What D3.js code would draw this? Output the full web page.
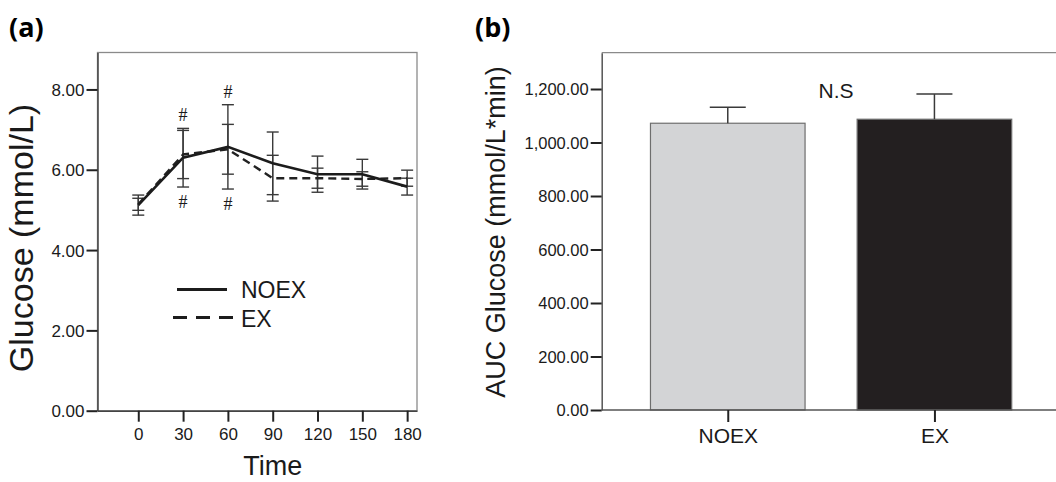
<!DOCTYPE html>
<html>
<head>
<meta charset="utf-8">
<script src="https://cdn.jsdelivr.net/npm/d3@7/dist/d3.min.js"></script>
<style>
  html, body { margin: 0; padding: 0; background: #fff; }
  svg { display: block; }
</style>
</head>
<body>
<svg id="fig" width="1056" height="482"></svg>
<script>
// ---- Panel (a): glucose over time ----
const times = [0, 30, 60, 90, 120, 150, 180];
const noexMean = [5.12, 6.30, 6.57, 6.16, 5.89, 5.89, 5.58];
const noexErr  = [0.25, 0.73, 1.05, 0.78, 0.45, 0.37, 0.21];
const exMean   = [5.14, 6.38, 6.51, 5.79, 5.79, 5.77, 5.79];
const exErr    = [0.15, 0.60, 0.62, 0.57, 0.25, 0.18, 0.20];
const glucoseTicks = [0, 2, 4, 6, 8];
// significance marks: time, and which side of the error bars
const sigMarks = [
  { t: 30, side: "up" }, { t: 30, side: "down" },
  { t: 60, side: "up" }, { t: 60, side: "down" }
];

// ---- Panel (b): area under the curve ----
const groups = ["NOEX", "EX"];
const aucMean = [1072, 1087];
const aucErr  = [60, 94];
const aucTicks = [0, 200, 400, 600, 800, 1000, 1200];
const groupFill = ["#d3d4d6", "#231f20"];

const SANS = "'Liberation Sans', Arial, Helvetica, sans-serif";
const svg = d3.select("#fig");

// panel letters
svg.append("text").attr("x", 9).attr("y", 37)
  .style("font-family", "'Open Sans', 'Noto Sans', sans-serif")
  .style("font-weight", "700").style("font-size", "27px").text("(a)");
svg.append("text").attr("x", 475).attr("y", 37)
  .style("font-family", "'Open Sans', 'Noto Sans', sans-serif")
  .style("font-weight", "700").style("font-size", "27px").text("(b)");

// ===== Panel (a) =====
const A = { left: 97.5, right: 417, top: 52.5, bottom: 410.7 };
const xA = d3.scaleLinear().domain([-27.3, 186.6]).range([A.left, A.right]);
const yA = d3.scaleLinear().domain([0, 8.92]).range([A.bottom, A.top]);

const gA = svg.append("g");
// frame
gA.append("rect").attr("x", A.left).attr("y", A.top)
  .attr("width", A.right - A.left).attr("height", A.bottom - A.top)
  .attr("fill", "none").attr("stroke", "#8a8a8a").attr("stroke-width", 1.3);

const yAxisA = gA.append("g").attr("transform", `translate(${A.left},0)`)
  .call(d3.axisLeft(yA).tickValues(glucoseTicks).tickFormat(d3.format(".2f")).tickSize(11).tickSizeOuter(0));
const xAxisA = gA.append("g").attr("transform", `translate(0,${A.bottom})`)
  .call(d3.axisBottom(xA).tickValues(times).tickFormat(d3.format("d")).tickSize(11).tickSizeOuter(0));
[yAxisA, xAxisA].forEach(ax => {
  ax.select(".domain").attr("stroke", "#444").attr("stroke-width", 1.5);
  ax.selectAll(".tick line").attr("stroke", "#222").attr("stroke-width", 2);
  ax.selectAll(".tick text").style("font-size", "17px").style("font-family", SANS).attr("fill", "#1a1a1a");
});
yAxisA.selectAll(".tick text").attr("x", -13).attr("dy", "0.36em");
xAxisA.selectAll(".tick text").attr("y", 17).attr("dy", "0.71em");

// axis titles
gA.append("text").attr("x", xA(90)).attr("y", 475).attr("text-anchor", "middle")
  .style("font-family", SANS).style("font-size", "27px").attr("fill", "#1a1a1a").text("Time");
gA.append("text").attr("transform", `translate(33,${yA(4.3)}) rotate(-90)`)
  .attr("text-anchor", "middle").style("font-family", SANS).style("font-size", "34px")
  .attr("fill", "#1a1a1a").text("Glucose (mmol/L)");

// error bars
function errorBars(mean, err, color) {
  const cap = 6;
  const g = gA.append("g").attr("stroke", color).attr("stroke-width", 1.4).attr("fill", "none");
  times.forEach((t, i) => {
    const x = xA(t), y1 = yA(mean[i] + err[i]), y2 = yA(mean[i] - err[i]);
    g.append("line").attr("x1", x).attr("x2", x).attr("y1", y1).attr("y2", y2);
    g.append("line").attr("x1", x - cap).attr("x2", x + cap).attr("y1", y1).attr("y2", y1);
    g.append("line").attr("x1", x - cap).attr("x2", x + cap).attr("y1", y2).attr("y2", y2);
  });
}
errorBars(exMean, exErr, "#3a3a3a");
errorBars(noexMean, noexErr, "#3a3a3a");

const lineA = d3.line().x(d => xA(d[0])).y(d => yA(d[1]));
gA.append("path").datum(times.map((t, i) => [t, exMean[i]]))
  .attr("d", lineA).attr("fill", "none").attr("stroke", "#222")
  .attr("stroke-width", 2.4).attr("stroke-dasharray", "8,5");
gA.append("path").datum(times.map((t, i) => [t, noexMean[i]]))
  .attr("d", lineA).attr("fill", "none").attr("stroke", "#1c1c1c")
  .attr("stroke-width", 2.6);

// significance marks placed outside the widest error bar
sigMarks.forEach(m => {
  const i = times.indexOf(m.t);
  const top = Math.max(noexMean[i] + noexErr[i], exMean[i] + exErr[i]);
  const bot = Math.min(noexMean[i] - noexErr[i], exMean[i] - exErr[i]);
  const y = m.side === "up" ? yA(top) - 7 : yA(bot) + 21;
  gA.append("text").attr("x", xA(m.t)).attr("y", y).attr("text-anchor", "middle")
    .style("font-family", "'Liberation Serif', 'DejaVu Serif', serif")
    .style("font-size", "18px").attr("fill", "#1a1a1a").text("#");
});

// legend
const legA = gA.append("g");
legA.append("line").attr("x1", 177).attr("x2", 227).attr("y1", 289.5).attr("y2", 289.5)
  .attr("stroke", "#1c1c1c").attr("stroke-width", 3);
legA.append("line").attr("x1", 173).attr("x2", 233).attr("y1", 317.5).attr("y2", 317.5)
  .attr("stroke", "#1c1c1c").attr("stroke-width", 3).attr("stroke-dasharray", "14,9");
legA.append("text").attr("x", 241).attr("y", 298).style("font-family", SANS)
  .style("font-size", "23px").attr("fill", "#1a1a1a").text("NOEX");
legA.append("text").attr("x", 241).attr("y", 327).style("font-family", SANS)
  .style("font-size", "23px").attr("fill", "#1a1a1a").text("EX");

// ===== Panel (b) =====
const B = { left: 601.7, right: 1060.5, top: 52.7, bottom: 410 };
const xB = d3.scalePoint().domain(groups).range([B.left, B.right]).padding(0.61);
const barW = xB.step() * 0.748;
const yB = d3.scaleLinear().domain([0, 1335.7]).range([B.bottom, B.top]);

const gB = svg.append("g");
gB.append("line").attr("x1", B.left).attr("x2", 1056).attr("y1", B.top).attr("y2", B.top)
  .attr("stroke", "#8a8a8a").attr("stroke-width", 1.3);

gB.selectAll("rect.bar").data(groups).join("rect").attr("class", "bar")
  .attr("x", d => xB(d) - barW / 2).attr("width", barW)
  .attr("y", (d, i) => yB(aucMean[i])).attr("height", (d, i) => yB(0) - yB(aucMean[i]))
  .attr("fill", (d, i) => groupFill[i]).attr("stroke", "#6e6e6e").attr("stroke-width", 1.2);

// upper error bars
const capB = 18;
groups.forEach((g, i) => {
  const x = xB(g), y0 = yB(aucMean[i]), y1 = yB(aucMean[i] + aucErr[i]);
  gB.append("line").attr("x1", x).attr("x2", x).attr("y1", y0).attr("y2", y1)
    .attr("stroke", "#3a3a3a").attr("stroke-width", 1.5);
  gB.append("line").attr("x1", x - capB).attr("x2", x + capB).attr("y1", y1).attr("y2", y1)
    .attr("stroke", "#3a3a3a").attr("stroke-width", 1.5);
});

const yAxisB = gB.append("g").attr("transform", `translate(${B.left},0)`)
  .call(d3.axisLeft(yB).tickValues(aucTicks).tickFormat(d3.format(",.2f")).tickSize(11).tickSizeOuter(0));
const xAxisB = gB.append("g").attr("transform", `translate(0,${B.bottom})`)
  .call(d3.axisBottom(xB).tickSize(12).tickSizeOuter(0));
xAxisB.select(".domain").attr("d", `M${B.left},0H1056`);
[yAxisB, xAxisB].forEach(ax => {
  ax.select(".domain").attr("stroke", "#555").attr("stroke-width", 1.5);
  ax.selectAll(".tick line").attr("stroke", "#222").attr("stroke-width", 2);
  ax.selectAll(".tick text").style("font-family", SANS).attr("fill", "#1a1a1a");
});
yAxisB.selectAll(".tick text").style("font-size", "16.5px").attr("x", -13).attr("dy", "0.36em");
xAxisB.selectAll(".tick text").style("font-size", "21px").attr("y", 16).attr("dy", "0.8em");

gB.append("text").attr("transform", `translate(505,232) rotate(-90)`)
  .attr("text-anchor", "middle").style("font-family", SANS).style("font-size", "27px")
  .attr("fill", "#1a1a1a").text("AUC Glucose (mmol/L*min)");
gB.append("text").attr("x", 836).attr("y", 98).attr("text-anchor", "middle")
  .style("font-family", SANS).style("font-size", "21px").attr("fill", "#1a1a1a").text("N.S");
</script>
</body>
</html>
